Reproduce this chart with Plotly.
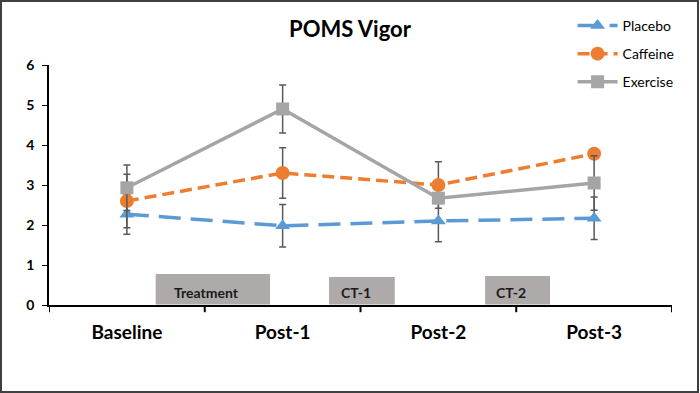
import plotly.graph_objects as go

categories = ["Baseline", "Post-1", "Post-2", "Post-3"]
placebo = [2.27, 1.98, 2.10, 2.17]
placebo_err = [0.50, 0.53, 0.52, 0.53]
caffeine = [2.60, 3.30, 3.00, 3.78]
caffeine_err = [0.67, 0.63, 0.58, 0.08]
exercise = [2.93, 4.90, 2.67, 3.05]
exercise_err = [0.57, 0.60, 0.10, 0.68]
y_ticks = [0, 1, 2, 3, 4, 5, 6]

phase_labels = ["Treatment", "CT-1", "CT-2"]

FONT = "Lato"
xs = list(range(len(categories)))

fig = go.Figure()

def add(name, y, err, color, dash, symbol, msize):
    fig.add_trace(go.Scatter(
        x=xs, y=y, name=name, mode="lines+markers", legendgroup=name,
        line=dict(color=color, width=3.5, dash=dash),
        marker=dict(symbol=symbol, size=msize, color=color),
        error_y=dict(type="data", array=err, visible=True, color="#595959",
                     thickness=1.5, width=3.5),
    ))

add("Placebo", placebo, placebo_err, "#5B9BD5", "22px,10px", "triangle-up", 13)
add("Caffeine", caffeine, caffeine_err, "#ED7D31", "12px,6px", "circle", 14)
add("Exercise", exercise, exercise_err, "#A5A5A5", "solid", "square", 13)

# phase boxes (data coords)
boxes = [(0.185, 0.919, 0.775), (1.298, 1.72, 0.70), (2.30, 2.717, 0.725)]
shapes = []
annotations = []
for (x0, x1, ytop), lab in zip(boxes, phase_labels):
    shapes.append(dict(type="rect", xref="x", yref="y", x0=x0, x1=x1, y0=0.01, y1=ytop,
                       fillcolor="#AEAAAA", line=dict(width=0), layer="below"))
    annotations.append(dict(x=(x0 + x1) / 2 - 0.04, y=0.32, xref="x", yref="y", text="<b>%s</b>" % lab,
                            showarrow=False, font=dict(family=FONT, size=14, color="#1a1a1a")))

# outer border
shapes.append(dict(type="rect", xref="paper", yref="paper",
                   x0=(1 - 49) / 623, x1=(698 - 49) / 623,
                   y0=(305 - 392) / 240, y1=(305 - 1) / 240,
                   line=dict(color="#404040", width=2), fillcolor="rgba(0,0,0,0)"))

fig.update_layout(
    width=700, height=393,
    margin=dict(l=49, r=28, t=65, b=88, autoexpand=False),
    paper_bgcolor="white", plot_bgcolor="white",
    title=dict(text="<b>POMS Vigor</b>", x=0.5, xanchor="center", y=0.925, yanchor="middle",
               font=dict(family=FONT, size=22, color="black")),
    font=dict(family=FONT, color="black"),
    legend=dict(xref="container", yref="container", x=0.818, y=0.975,
                xanchor="left", yanchor="top", bgcolor="rgba(0,0,0,0)",
                font=dict(family=FONT, size=14, color="black"), tracegroupgap=7, itemwidth=40),
    shapes=shapes, annotations=annotations,
    showlegend=True,
)
fig.update_xaxes(
    tickmode="array", tickvals=xs, ticktext=["<b>%s</b>" % c for c in categories],
    range=[-0.5, 3.5], showgrid=False, zeroline=False,
    showline=True, linecolor="black", linewidth=2,
    ticks="", tickfont=dict(family=FONT, size=19, color="black"),
    ticklabelstandoff=9,
)
# boundary ticks
for b in [-0.5, 0.5, 1.5, 2.5, 3.5]:
    fig.add_shape(type="line", xref="x", yref="paper", x0=b, x1=b, y0=0, y1=-0.03,
                  line=dict(color="black", width=2))
fig.update_yaxes(
    range=[0, 6], tickvals=y_ticks, ticktext=["<b>%d</b>" % v for v in y_ticks],
    showgrid=False, zeroline=False, showline=True, linecolor="black", linewidth=1.5,
    ticks="outside", ticklen=5, tickcolor="black",
    tickfont=dict(family=FONT, size=14, color="black"),
    ticklabelstandoff=5,
)

fig.write_html("out.html", config={"displayModeBar": False},
               post_script="document.body.style.margin='0px';")
